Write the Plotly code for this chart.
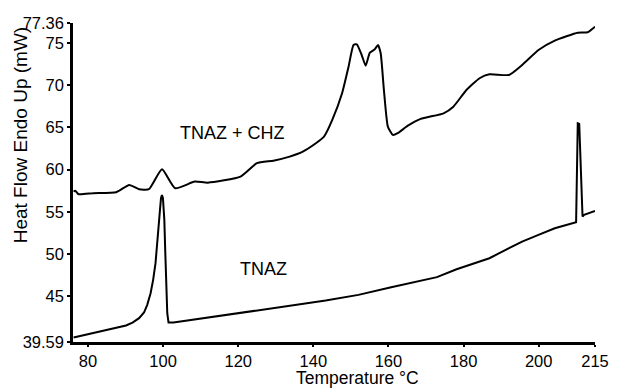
import plotly.graph_objects as go

# DSC traces: temperature (°C) vs heat flow (mW)
mix_temp = [76.16, 76.6, 77.46, 81.39, 87.51, 90.98, 93.6, 96.21, 99.69, 103.2,
            108.43, 111.9, 120.6, 124.98, 129.35, 133.69, 137.19, 140.67, 142.84,
            145.04, 147.65, 149.38, 150.69, 151.58, 152.88, 153.93, 155.05, 156.36,
            157.22, 157.93, 158.79, 159.84, 161.15, 162.45, 165.07, 168.57, 174.67,
            177.28, 180.76, 184.26, 186.88, 192.11, 195.59, 199.95, 204.29, 210.41,
            213.03, 215.0]
mix_flow = [57.40, 57.51, 57.09, 57.21, 57.32, 58.19, 57.68, 57.68, 60.05, 57.80,
            58.58, 58.46, 59.17, 60.76, 61.06, 61.54, 62.13, 63.12, 63.90,
            65.88, 69.04, 72.19, 74.76, 74.84, 73.57, 72.31, 73.85, 74.25,
            74.76, 73.77, 69.43, 65.09, 64.11, 64.31, 65.17, 66.00, 66.67,
            67.45, 69.43, 70.82, 71.29, 71.21, 72.39, 74.16, 75.27, 76.21,
            76.26, 76.92]

tnaz_temp = [76.16, 83.14, 90.12, 91.85, 93.6, 94.91, 95.77, 96.66, 97.34, 97.97,
             98.57, 99.09, 99.43, 99.69, 99.95, 100.32, 100.58, 100.84, 101.1,
             101.44, 102.75, 143.28, 152.0, 160.73, 167.68, 172.91, 178.14, 182.51,
             186.88, 191.22, 195.59, 199.95, 204.29, 209.97, 210.41, 210.8, 211.25,
             211.68, 212.1, 213.85, 215.0]
tnaz_flow = [40.12, 40.83, 41.54, 41.89, 42.41, 43.08, 43.99, 45.37, 46.95, 48.92,
             51.68, 54.84, 56.61, 57.0, 56.61, 54.05, 50.11, 45.76, 43.0,
             41.89, 41.89, 44.50, 45.17, 46.08, 46.74, 47.27, 48.21, 48.84,
             49.51, 50.50, 51.48, 52.27, 53.06, 53.78, 65.49, 65.41, 59.17,
             54.44, 54.64, 54.91, 55.11]

x_ticks = [80, 100, 120, 140, 160, 180, 200, 215]
y_ticks = [39.59, 45, 50, 55, 60, 65, 70, 75, 77.36]
y_tick_text = ["39.59", "45", "50", "55", "60", "65", "70", "75", "77.36"]

FONT = "Liberation Sans, Arial, sans-serif"

fig = go.Figure()
fig.add_trace(go.Scatter(x=mix_temp, y=mix_flow, mode="lines",
                         line=dict(color="black", width=2, shape="spline", smoothing=0.5),
                         showlegend=False))
fig.add_trace(go.Scatter(x=tnaz_temp, y=tnaz_flow, mode="lines",
                         line=dict(color="black", width=2),
                         showlegend=False))

fig.add_annotation(x=118.4, y=64.3, text="TNAZ + CHZ", showarrow=False,
                   font=dict(family=FONT, size=18, color="black"))
fig.add_annotation(x=126.6, y=48.2, text="TNAZ", showarrow=False,
                   font=dict(family=FONT, size=18, color="black"))

# axis titles
fig.add_annotation(xref="paper", yref="paper", x=0.545, y=-0.1495,
                   xanchor="center", yanchor="bottom",
                   text="Temperature °C", showarrow=False,
                   font=dict(family=FONT, size=17.5, color="black"))
fig.add_annotation(xref="paper", yref="paper", x=-0.099, y=0.649,
                   xanchor="center", yanchor="middle",
                   text="Heat Flow Endo Up (mW)", showarrow=False, textangle=-90,
                   font=dict(family=FONT, size=19, color="black"))

fig.update_layout(
    width=621, height=390,
    margin=dict(l=73, r=16, t=23, b=48),
    paper_bgcolor="white", plot_bgcolor="white",
    font=dict(family=FONT, size=16.5, color="black"),
    xaxis=dict(range=[76, 215], tickvals=x_ticks, showgrid=False, zeroline=False,
               showline=True, linecolor="black", linewidth=2.5,
               ticks="outside", ticklen=2, tickwidth=1.5, tickcolor="black"),
    yaxis=dict(range=[39.59, 77.36], tickvals=y_ticks, ticktext=y_tick_text,
               showgrid=False, zeroline=False,
               showline=True, linecolor="black", linewidth=2.5,
               ticks="outside", ticklen=3, tickwidth=1.5, tickcolor="black"),
)

fig.write_html("out.html")
